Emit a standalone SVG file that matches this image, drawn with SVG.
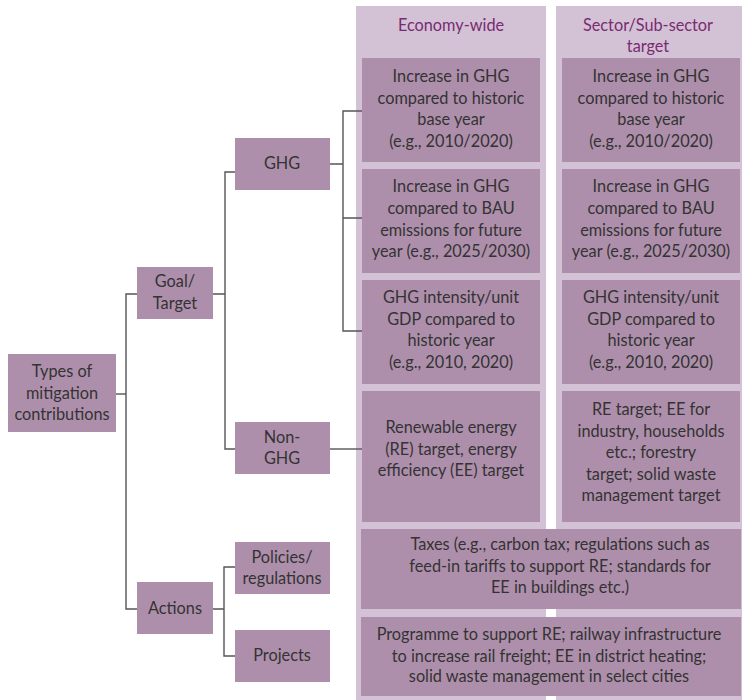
<svg xmlns="http://www.w3.org/2000/svg" width="742" height="700" viewBox="0 0 742 700">
<style>
.col{fill:#d3c2d5}
.box{fill:#ae8fab}
.t{font-family:Lato,"Open Sans","DejaVu Sans",sans-serif;font-size:16.3px;fill:#333333;text-anchor:middle}
.h{font-family:Lato,"Open Sans","DejaVu Sans",sans-serif;font-size:16.3px;fill:#7a2a72;text-anchor:middle}
.c{fill:none;stroke:#555555;stroke-width:1.4}
</style>
<rect width="742" height="700" fill="#ffffff"/>
<g id="columns">
<rect class="col" x="356" y="6" width="190" height="694"/>
<rect class="col" x="556" y="6" width="186" height="694"/>
<text class="h" x="451" y="31">Economy-wide</text>
<text class="h" x="648" y="31">Sector/Sub-sector</text>
<text class="h" x="648" y="52">target</text>
</g>
<g id="connectors">
<path class="c" d="M116,394 H126"/>
<path class="c" d="M137,294 H126 V609 H137"/>
<path class="c" d="M213,294 H225 M235,172 H225 V449 H235"/>
<path class="c" d="M330,164 H343 M362,111 H343 V331 H362 M343,218 H362"/>
<path class="c" d="M330,449 H362"/>
<path class="c" d="M213,609 H224 M235,567 H224 V656 H235"/>
</g>
<g id="types">
<rect class="box" x="8" y="354" width="108" height="78"/>
<text class="t" x="62" y="377">Types of</text>
<text class="t" x="62" y="399">mitigation</text>
<text class="t" x="62" y="420">contributions</text>
</g>
<g id="goal">
<rect class="box" x="137" y="267" width="76" height="52"/>
<text class="t" x="175" y="287">Goal/</text>
<text class="t" x="175" y="309">Target</text>
</g>
<g id="actions">
<rect class="box" x="137" y="582" width="76" height="52"/>
<text class="t" x="175" y="614">Actions</text>
</g>
<g id="ghg">
<rect class="box" x="235" y="138" width="95" height="52"/>
<text class="t" x="282" y="169">GHG</text>
</g>
<g id="nonghg">
<rect class="box" x="235" y="422" width="95" height="52"/>
<text class="t" x="282" y="443">Non-</text>
<text class="t" x="282" y="464">GHG</text>
</g>
<g id="policies">
<rect class="box" x="235" y="542" width="95" height="52"/>
<text class="t" x="282" y="563">Policies/</text>
<text class="t" x="282" y="584">regulations</text>
</g>
<g id="projects">
<rect class="box" x="235" y="630" width="95" height="52"/>
<text class="t" x="282" y="661">Projects</text>
</g>
<g id="ew-base">
<rect class="box" x="362" y="58" width="178" height="104"/>
<text class="t" x="451" y="82">Increase in GHG</text>
<text class="t" x="451" y="104">compared to historic</text>
<text class="t" x="451" y="125">base year</text>
<text class="t" x="451" y="147">(e.g., 2010/2020)</text>
</g>
<g id="ss-base">
<rect class="box" x="562" y="58" width="178" height="104"/>
<text class="t" x="651" y="82">Increase in GHG</text>
<text class="t" x="651" y="104">compared to historic</text>
<text class="t" x="651" y="125">base year</text>
<text class="t" x="651" y="147">(e.g., 2010/2020)</text>
</g>
<g id="ew-bau">
<rect class="box" x="362" y="169" width="178" height="104"/>
<text class="t" x="451" y="192">Increase in GHG</text>
<text class="t" x="451" y="214">compared to BAU</text>
<text class="t" x="451" y="236">emissions for future</text>
<text class="t" x="451" y="257">year (e.g., 2025/2030)</text>
</g>
<g id="ss-bau">
<rect class="box" x="562" y="169" width="178" height="104"/>
<text class="t" x="651" y="192">Increase in GHG</text>
<text class="t" x="651" y="214">compared to BAU</text>
<text class="t" x="651" y="236">emissions for future</text>
<text class="t" x="651" y="257">year (e.g., 2025/2030)</text>
</g>
<g id="ew-intensity">
<rect class="box" x="362" y="280" width="178" height="104"/>
<text class="t" x="451" y="303">GHG intensity/unit</text>
<text class="t" x="451" y="325">GDP compared to</text>
<text class="t" x="451" y="346">historic year</text>
<text class="t" x="451" y="368">(e.g., 2010, 2020)</text>
</g>
<g id="ss-intensity">
<rect class="box" x="562" y="280" width="178" height="104"/>
<text class="t" x="651" y="303">GHG intensity/unit</text>
<text class="t" x="651" y="325">GDP compared to</text>
<text class="t" x="651" y="346">historic year</text>
<text class="t" x="651" y="368">(e.g., 2010, 2020)</text>
</g>
<g id="ew-nonghg">
<rect class="box" x="362" y="391" width="178" height="131"/>
<text class="t" x="451" y="433">Renewable energy</text>
<text class="t" x="451" y="455">(RE) target, energy</text>
<text class="t" x="451" y="476">efficiency (EE) target</text>
</g>
<g id="ss-nonghg">
<rect class="box" x="562" y="391" width="178" height="131"/>
<text class="t" x="651" y="415">RE target; EE for</text>
<text class="t" x="651" y="437">industry, households</text>
<text class="t" x="651" y="458">etc.; forestry</text>
<text class="t" x="651" y="480">target; solid waste</text>
<text class="t" x="651" y="501">management target</text>
</g>
<g id="policies-detail">
<rect class="box" x="361" y="529" width="380" height="80"/>
<text class="t" x="560" y="550">Taxes (e.g., carbon tax; regulations such as</text>
<text class="t" x="560" y="572">feed-in tariffs to support RE; standards for</text>
<text class="t" x="560" y="593">EE in buildings etc.)</text>
</g>
<g id="projects-detail">
<rect class="box" x="361" y="617" width="380" height="79"/>
<text class="t" x="549" y="640">Programme to support RE; railway infrastructure</text>
<text class="t" x="549" y="662">to increase rail freight; EE in district heating;</text>
<text class="t" x="549" y="682">solid waste management in select cities</text>
</g>
</svg>
